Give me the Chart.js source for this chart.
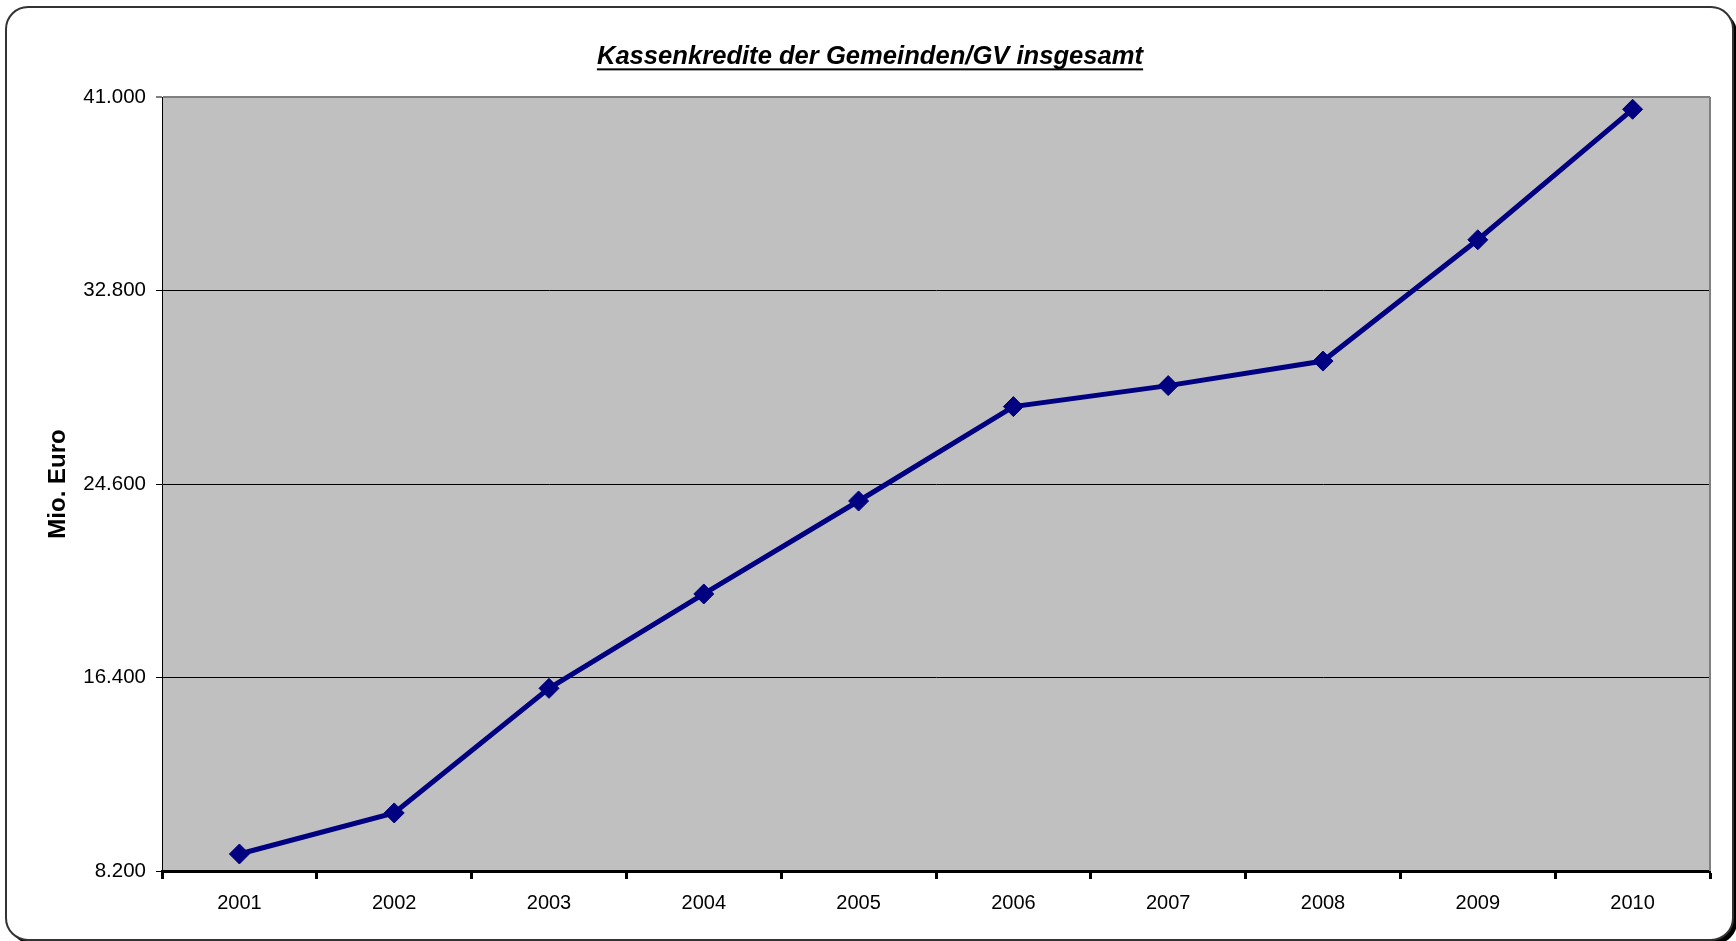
<!DOCTYPE html>
<html lang="de">
<head>
<meta charset="UTF-8">
<title>Kassenkredite der Gemeinden/GV insgesamt</title>
<script src="https://cdn.jsdelivr.net/npm/chart.js"></script>
<style>
  html, body { margin: 0; padding: 0; background: #fff; }
  canvas { display: block; }
</style>
</head>
<body>
<canvas id="myChart" width="1736" height="941"></canvas>
<script>
// Werte (Mio. Euro)
const jahre = ['2001', '2002', '2003', '2004', '2005', '2006', '2007', '2008', '2009', '2010'];
const kassenkredite = [8920, 10660, 15940, 19940, 23880, 27880, 28770, 29810, 34950, 40480];
const yTicks = [8200, 16400, 24600, 32800, 41000];

function formatDe(v) {
    return String(v).replace(/\B(?=(\d{3})+(?!\d))/g, '.');
}

// Rahmen mit runden Ecken, Schatten und grauer Zeichenfläche
const hintergrund = {
    id: 'hintergrund',
    beforeDraw(chart) {
        const c = chart.ctx;
        const a = chart.chartArea;
        c.save();
        c.fillStyle = '#fff';
        c.fillRect(0, 0, chart.width, chart.height);
        c.fillStyle = '#000';
        c.beginPath();
        c.roundRect(10, 11, 1727, 933, 22);
        c.fill();
        c.fillStyle = '#fff';
        c.beginPath();
        c.roundRect(6, 7, 1727, 933, 22);
        c.fill();
        c.strokeStyle = '#333';
        c.lineWidth = 2;
        c.stroke();
        c.fillStyle = '#c0c0c0';
        c.fillRect(a.left, a.top, a.right - a.left, a.bottom - a.top);
        c.restore();
    },
    beforeDatasetsDraw(chart) {
        const c = chart.ctx;
        const a = chart.chartArea;
        c.save();
        c.strokeStyle = '#808080';
        c.lineWidth = 2;
        c.beginPath();
        c.moveTo(a.right, a.top);
        c.lineTo(a.right, a.bottom);
        c.stroke();
        c.restore();
    },
    afterDraw(chart) {
        // Unterstreichung des Titels
        const t = chart.titleBlock;
        if (!t) return;
        const c = chart.ctx;
        c.save();
        c.font = 'italic bold 25.6px "Liberation Sans", Arial, sans-serif';
        const w = c.measureText(chart.options.plugins.title.text).width;
        const cx = (t.left + t.right) / 2;
        const y = t.top + t.options.padding.top + 25.6 * 1.2 / 2 + 11;
        c.fillStyle = '#000';
        c.fillRect(cx - w / 2, y, w, 2);
        c.restore();
    }
};

const ctx = document.getElementById('myChart').getContext('2d');
new Chart(ctx, {
    type: 'line',
    data: {
        labels: jahre,
        datasets: [{
            label: 'Kassenkredite',
            data: kassenkredite,
            borderColor: '#000080',
            backgroundColor: '#000080',
            borderWidth: 5,
            pointStyle: 'rectRot',
            pointRadius: 10,
            pointHoverRadius: 10,
            pointBorderWidth: 1,
            pointBorderColor: '#000080',
            tension: 0,
            clip: false
        }]
    },
    options: {
        responsive: false,
        animation: false,
        layout: { padding: { left: 30, right: 26, top: 0, bottom: 20 } },
        plugins: {
            legend: { display: false },
            tooltip: { enabled: false },
            title: {
                display: true,
                text: 'Kassenkredite der Gemeinden/GV insgesamt',
                color: '#000',
                font: { family: '"Liberation Sans", Arial, sans-serif', size: 25.6, style: 'italic', weight: 'bold', lineHeight: 1.2 },
                padding: { top: 42, bottom: 24.3 }
            }
        },
        scales: {
            x: {
                type: 'category',
                offset: true,
                afterFit(scale) { scale.height = 50; },
                grid: {
                    offset: true,
                    drawOnChartArea: false,
                    drawTicks: true,
                    tickLength: 8,
                    tickWidth: 3,
                    tickColor: '#000'
                },
                border: { display: true, color: '#000', width: 3 },
                ticks: {
                    color: '#000',
                    padding: 12,
                    maxRotation: 0,
                    font: { family: '"Liberation Sans", Arial, sans-serif', size: 20 }
                }
            },
            y: {
                min: 8200,
                max: 41000,
                afterFit(scale) { scale.width = 132; },
                afterBuildTicks(scale) { scale.ticks = yTicks.map(v => ({ value: v })); },
                grid: {
                    color: c => (c.tick && c.tick.value === 41000) ? '#808080' : '#000',
                    lineWidth: c => (c.tick && c.tick.value === 41000) ? 2 : 1,
                    tickColor: '#000',
                    tickLength: 6,
                    tickWidth: 1
                },
                border: { display: true, color: '#000', width: 1 },
                ticks: {
                    color: '#000',
                    padding: 10,
                    font: { family: '"Liberation Sans", Arial, sans-serif', size: 20.5 },
                    callback: v => formatDe(v)
                },
                title: {
                    display: true,
                    text: 'Mio. Euro',
                    color: '#000',
                    font: { family: '"Liberation Sans", Arial, sans-serif', size: 24, weight: 'bold', lineHeight: 1.2 },
                    padding: { top: 14, bottom: 0 }
                }
            }
        }
    },
    plugins: [hintergrund]
});
</script>
</body>
</html>
